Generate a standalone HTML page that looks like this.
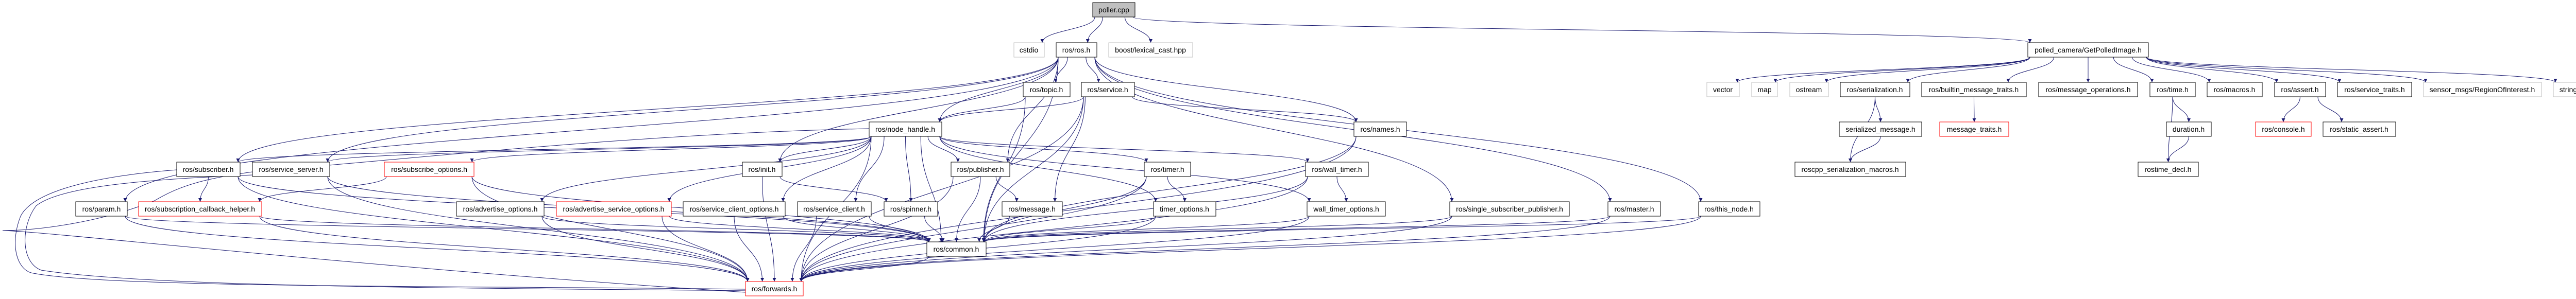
<!DOCTYPE html>
<html><head><meta charset="utf-8"><style>
html,body{margin:0;padding:0;background:#fff;}
svg{display:block;}
text{font-family:"Liberation Sans",sans-serif;font-size:14px;fill:#000;}
</style></head><body>
<svg id="g" width="5016" height="581" viewBox="0 0 5016 581" xmlns="http://www.w3.org/2000/svg">
<defs><marker id="a" viewBox="0 0 10 10" refX="10" refY="5" markerWidth="7" markerHeight="7" orient="auto"><path d="M0,0 L10,5 L0,10 z" fill="#191970"/></marker></defs>
<g id="edges" fill="none" stroke="#191970" stroke-width="1"></g>
<g id="nodes">
<rect x="2121" y="5" width="82" height="28" fill="#bfbfbf" stroke="#000"/><text x="2162" y="24" text-anchor="middle">poller.cpp</text>
<rect x="1968" y="83" width="59" height="28" fill="#fff" stroke="#bfbfbf"/><text x="1997" y="102" text-anchor="middle">cstdio</text>
<rect x="2050" y="83" width="79" height="28" fill="#fff" stroke="#000"/><text x="2089" y="102" text-anchor="middle">ros/ros.h</text>
<rect x="2152" y="83" width="163" height="28" fill="#fff" stroke="#bfbfbf"/><text x="2233" y="102" text-anchor="middle">boost/lexical_cast.hpp</text>
<rect x="3936" y="83" width="234" height="28" fill="#fff" stroke="#000"/><text x="4053" y="102" text-anchor="middle">polled_camera/GetPolledImage.h</text>
<rect x="1986" y="160" width="91" height="28" fill="#fff" stroke="#000"/><text x="2031" y="179" text-anchor="middle">ros/topic.h</text>
<rect x="2099" y="160" width="103" height="28" fill="#fff" stroke="#000"/><text x="2150" y="179" text-anchor="middle">ros/service.h</text>
<rect x="3313" y="160" width="63" height="28" fill="#fff" stroke="#bfbfbf"/><text x="3344" y="179" text-anchor="middle">vector</text>
<rect x="3400" y="160" width="50" height="28" fill="#fff" stroke="#bfbfbf"/><text x="3425" y="179" text-anchor="middle">map</text>
<rect x="3474" y="160" width="75" height="28" fill="#fff" stroke="#bfbfbf"/><text x="3511" y="179" text-anchor="middle">ostream</text>
<rect x="3572" y="160" width="135" height="28" fill="#fff" stroke="#000"/><text x="3639" y="179" text-anchor="middle">ros/serialization.h</text>
<rect x="3730" y="160" width="203" height="28" fill="#fff" stroke="#000"/><text x="3831" y="179" text-anchor="middle">ros/builtin_message_traits.h</text>
<rect x="3957" y="160" width="192" height="28" fill="#fff" stroke="#000"/><text x="4053" y="179" text-anchor="middle">ros/message_operations.h</text>
<rect x="4173" y="160" width="88" height="28" fill="#fff" stroke="#000"/><text x="4217" y="179" text-anchor="middle">ros/time.h</text>
<rect x="4284" y="160" width="107" height="28" fill="#fff" stroke="#000"/><text x="4337" y="179" text-anchor="middle">ros/macros.h</text>
<rect x="4415" y="160" width="99" height="28" fill="#fff" stroke="#000"/><text x="4464" y="179" text-anchor="middle">ros/assert.h</text>
<rect x="4537" y="160" width="144" height="28" fill="#fff" stroke="#000"/><text x="4609" y="179" text-anchor="middle">ros/service_traits.h</text>
<rect x="4704" y="160" width="229" height="28" fill="#fff" stroke="#bfbfbf"/><text x="4818" y="179" text-anchor="middle">sensor_msgs/RegionOfInterest.h</text>
<rect x="4956" y="160" width="59" height="28" fill="#fff" stroke="#bfbfbf"/><text x="4985" y="179" text-anchor="middle">string</text>
<rect x="1687" y="237" width="141" height="28" fill="#fff" stroke="#000"/><text x="1757" y="256" text-anchor="middle">ros/node_handle.h</text>
<rect x="2628" y="237" width="102" height="28" fill="#fff" stroke="#000"/><text x="2679" y="256" text-anchor="middle">ros/names.h</text>
<rect x="3570" y="237" width="160" height="28" fill="#fff" stroke="#000"/><text x="3650" y="256" text-anchor="middle">serialized_message.h</text>
<rect x="3765" y="237" width="134" height="28" fill="#fff" stroke="#ff0000"/><text x="3832" y="256" text-anchor="middle">message_traits.h</text>
<rect x="4205" y="237" width="87" height="28" fill="#fff" stroke="#000"/><text x="4248" y="256" text-anchor="middle">duration.h</text>
<rect x="4378" y="237" width="108" height="28" fill="#fff" stroke="#ff0000"/><text x="4432" y="256" text-anchor="middle">ros/console.h</text>
<rect x="4509" y="237" width="141" height="28" fill="#fff" stroke="#000"/><text x="4579" y="256" text-anchor="middle">ros/static_assert.h</text>
<rect x="343" y="315" width="123" height="28" fill="#fff" stroke="#000"/><text x="404" y="334" text-anchor="middle">ros/subscriber.h</text>
<rect x="490" y="315" width="150" height="28" fill="#fff" stroke="#000"/><text x="565" y="334" text-anchor="middle">ros/service_server.h</text>
<rect x="746" y="315" width="174" height="28" fill="#fff" stroke="#ff0000"/><text x="833" y="334" text-anchor="middle">ros/subscribe_options.h</text>
<rect x="1441" y="315" width="77" height="28" fill="#fff" stroke="#000"/><text x="1479" y="334" text-anchor="middle">ros/init.h</text>
<rect x="1846" y="315" width="114" height="28" fill="#fff" stroke="#000"/><text x="1903" y="334" text-anchor="middle">ros/publisher.h</text>
<rect x="2221" y="315" width="90" height="28" fill="#fff" stroke="#000"/><text x="2266" y="334" text-anchor="middle">ros/timer.h</text>
<rect x="2534" y="315" width="122" height="28" fill="#fff" stroke="#000"/><text x="2595" y="334" text-anchor="middle">ros/wall_timer.h</text>
<rect x="3484" y="315" width="215" height="28" fill="#fff" stroke="#000"/><text x="3591" y="334" text-anchor="middle">roscpp_serialization_macros.h</text>
<rect x="4150" y="315" width="117" height="28" fill="#fff" stroke="#000"/><text x="4208" y="334" text-anchor="middle">rostime_decl.h</text>
<rect x="147" y="392" width="100" height="28" fill="#fff" stroke="#000"/><text x="197" y="411" text-anchor="middle">ros/param.h</text>
<rect x="269" y="392" width="239" height="28" fill="#fff" stroke="#ff0000"/><text x="388" y="411" text-anchor="middle">ros/subscription_callback_helper.h</text>
<rect x="886" y="392" width="170" height="28" fill="#fff" stroke="#000"/><text x="971" y="411" text-anchor="middle">ros/advertise_options.h</text>
<rect x="1080" y="392" width="223" height="28" fill="#fff" stroke="#ff0000"/><text x="1191" y="411" text-anchor="middle">ros/advertise_service_options.h</text>
<rect x="1326" y="392" width="198" height="28" fill="#fff" stroke="#000"/><text x="1425" y="411" text-anchor="middle">ros/service_client_options.h</text>
<rect x="1548" y="392" width="143" height="28" fill="#fff" stroke="#000"/><text x="1619" y="411" text-anchor="middle">ros/service_client.h</text>
<rect x="1716" y="392" width="104" height="28" fill="#fff" stroke="#000"/><text x="1768" y="411" text-anchor="middle">ros/spinner.h</text>
<rect x="1945" y="392" width="117" height="28" fill="#fff" stroke="#000"/><text x="2003" y="411" text-anchor="middle">ros/message.h</text>
<rect x="2239" y="392" width="121" height="28" fill="#fff" stroke="#000"/><text x="2299" y="411" text-anchor="middle">timer_options.h</text>
<rect x="2537" y="392" width="152" height="28" fill="#fff" stroke="#000"/><text x="2613" y="411" text-anchor="middle">wall_timer_options.h</text>
<rect x="2814" y="392" width="232" height="28" fill="#fff" stroke="#000"/><text x="2930" y="411" text-anchor="middle">ros/single_subscriber_publisher.h</text>
<rect x="3121" y="392" width="102" height="28" fill="#fff" stroke="#000"/><text x="3172" y="411" text-anchor="middle">ros/master.h</text>
<rect x="3297" y="392" width="119" height="28" fill="#fff" stroke="#000"/><text x="3356" y="411" text-anchor="middle">ros/this_node.h</text>
<rect x="1799" y="470" width="115" height="28" fill="#fff" stroke="#000"/><text x="1856" y="489" text-anchor="middle">ros/common.h</text>
<rect x="1447" y="547" width="112" height="28" fill="#fff" stroke="#ff0000"/><text x="1503" y="566" text-anchor="middle">ros/forwards.h</text>
</g>
</svg>
<script>
(function(){
var N={};
var rs=document.querySelectorAll('#nodes rect'),ts=document.querySelectorAll('#nodes text');
for(var i=0;i<rs.length;i++){var r=rs[i];var x=+r.getAttribute('x'),y=+r.getAttribute('y'),w=+r.getAttribute('width');
N[ts[i].textContent]={x:x,y:y,w:w,cx:x+w/2};}
var E=[["poller.cpp","cstdio"],["poller.cpp","ros/ros.h"],["poller.cpp","boost/lexical_cast.hpp"],["poller.cpp","polled_camera/GetPolledImage.h"],
["ros/ros.h","ros/node_handle.h"],["ros/ros.h","ros/init.h"],["ros/ros.h","ros/topic.h"],["ros/ros.h","ros/service.h"],["ros/ros.h","ros/publisher.h"],["ros/ros.h","ros/names.h"],["ros/ros.h","ros/subscriber.h"],["ros/ros.h","ros/service_server.h"],["ros/ros.h","ros/param.h"],["ros/ros.h","ros/single_subscriber_publisher.h"],["ros/ros.h","ros/master.h"],["ros/ros.h","ros/this_node.h"],["ros/ros.h","ros/common.h"],
["ros/topic.h","ros/node_handle.h"],["ros/topic.h","ros/common.h"],["ros/service.h","ros/node_handle.h"],["ros/service.h","ros/names.h"],["ros/service.h","ros/message.h"],["ros/service.h","ros/common.h"],["ros/service.h","ros/forwards.h"],
["ros/node_handle.h","ros/init.h"],["ros/node_handle.h","ros/publisher.h"],["ros/node_handle.h","ros/subscriber.h"],["ros/node_handle.h","ros/service_server.h"],["ros/node_handle.h","ros/subscribe_options.h"],["ros/node_handle.h","ros/advertise_options.h"],["ros/node_handle.h","ros/advertise_service_options.h"],["ros/node_handle.h","ros/service_client_options.h"],["ros/node_handle.h","ros/service_client.h"],["ros/node_handle.h","ros/spinner.h"],["ros/node_handle.h","ros/common.h"],["ros/node_handle.h","ros/timer.h"],["ros/node_handle.h","ros/wall_timer.h"],["ros/node_handle.h","timer_options.h"],["ros/node_handle.h","wall_timer_options.h"],["ros/node_handle.h","ros/forwards.h"],
["ros/subscriber.h","ros/subscription_callback_helper.h"],["ros/subscriber.h","ros/common.h"],["ros/subscriber.h","ros/forwards.h"],["ros/service_server.h","ros/common.h"],["ros/service_server.h","ros/forwards.h"],["ros/subscribe_options.h","ros/subscription_callback_helper.h"],["ros/subscribe_options.h","ros/common.h"],["ros/subscribe_options.h","ros/forwards.h"],
["ros/init.h","ros/spinner.h"],["ros/init.h","ros/forwards.h"],["ros/publisher.h","ros/message.h"],["ros/publisher.h","ros/common.h"],["ros/publisher.h","ros/forwards.h"],
["ros/timer.h","timer_options.h"],["ros/timer.h","ros/common.h"],["ros/timer.h","ros/forwards.h"],["ros/wall_timer.h","wall_timer_options.h"],["ros/wall_timer.h","ros/common.h"],["ros/wall_timer.h","ros/forwards.h"],["ros/names.h","ros/common.h"],["ros/names.h","ros/forwards.h"],
["ros/param.h","ros/common.h"],["ros/param.h","ros/forwards.h"],["ros/subscription_callback_helper.h","ros/common.h"],["ros/subscription_callback_helper.h","ros/forwards.h"],["ros/advertise_options.h","ros/common.h"],["ros/advertise_options.h","ros/forwards.h"],["ros/advertise_service_options.h","ros/common.h"],["ros/advertise_service_options.h","ros/forwards.h"],["ros/service_client_options.h","ros/common.h"],["ros/service_client_options.h","ros/forwards.h"],["ros/service_client.h","ros/common.h"],["ros/service_client.h","ros/forwards.h"],["ros/spinner.h","ros/common.h"],["ros/message.h","ros/common.h"],["timer_options.h","ros/common.h"],["timer_options.h","ros/forwards.h"],["wall_timer_options.h","ros/common.h"],["wall_timer_options.h","ros/forwards.h"],["ros/single_subscriber_publisher.h","ros/common.h"],["ros/single_subscriber_publisher.h","ros/forwards.h"],["ros/master.h","ros/common.h"],["ros/master.h","ros/forwards.h"],["ros/this_node.h","ros/common.h"],["ros/this_node.h","ros/forwards.h"],["ros/common.h","ros/forwards.h"],
["polled_camera/GetPolledImage.h","vector"],["polled_camera/GetPolledImage.h","map"],["polled_camera/GetPolledImage.h","ostream"],["polled_camera/GetPolledImage.h","ros/serialization.h"],["polled_camera/GetPolledImage.h","ros/builtin_message_traits.h"],["polled_camera/GetPolledImage.h","ros/message_operations.h"],["polled_camera/GetPolledImage.h","ros/time.h"],["polled_camera/GetPolledImage.h","ros/macros.h"],["polled_camera/GetPolledImage.h","ros/assert.h"],["polled_camera/GetPolledImage.h","ros/service_traits.h"],["polled_camera/GetPolledImage.h","sensor_msgs/RegionOfInterest.h"],["polled_camera/GetPolledImage.h","string"],
["ros/serialization.h","serialized_message.h"],["ros/serialization.h","roscpp_serialization_macros.h"],["serialized_message.h","roscpp_serialization_macros.h"],["ros/builtin_message_traits.h","message_traits.h"],["ros/time.h","duration.h"],["ros/time.h","rostime_decl.h"],["duration.h","rostime_decl.h"],["ros/assert.h","ros/console.h"],["ros/assert.h","ros/static_assert.h"]];
var g=document.getElementById('edges'),s='';
E.forEach(function(e){var a=N[e[0]],b=N[e[1]];if(!a||!b)return;
var x1=a.cx,y1=a.y+28,x2=b.cx,y2=b.y;
var dx=x2-x1;if(Math.abs(dx)>a.w/2){x1=a.cx+Math.max(-a.w/2+4,Math.min(a.w/2-4,dx*0.3));}
if(Math.abs(dx)>b.w/2){x2=b.cx-Math.max(-b.w/2+4,Math.min(b.w/2-4,dx*0.3));}
var dy=y2-y1;
s+='<path marker-end="url(#a)" d="M'+x1+','+y1+' C'+x1+','+(y1+dy*0.5)+' '+x2+','+(y2-dy*0.5)+' '+x2+','+y2+'"/>';});
s+='<path d="M343,330 C150,345 60,380 40,420 C20,470 30,520 60,530 C200,560 900,555 1447,562"/>';
s+='<path d="M490,340 C300,348 120,360 70,400 C40,440 40,510 80,525 C300,560 1000,560 1447,565"/>';
s+='<path d="M1687,250 C1200,260 700,320 520,330 C400,345 350,360 300,390 C200,430 80,448 5,448 C100,450 700,520 1447,568"/>';
g.innerHTML=s;
})();
</script>
</body></html>
